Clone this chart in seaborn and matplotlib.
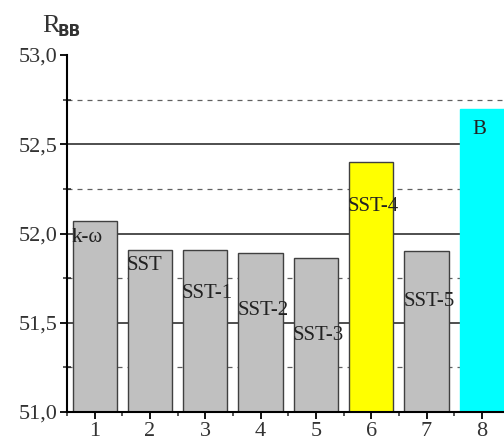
import numpy as np
import pandas as pd
import matplotlib
matplotlib.use("Agg")
import matplotlib.pyplot as plt
from matplotlib.ticker import MultipleLocator, FuncFormatter
import seaborn as sns

# data
positions = [1, 2, 3, 4, 5, 6, 7, 8]
models = ["k-ω", "SST", "SST-1", "SST-2", "SST-3", "SST-4", "SST-5", "B"]
r_bb = [52.07, 51.91, 51.91, 51.89, 51.865, 52.40, 51.90, 52.70]
bar_colors = ["#c0c0c0"] * 5 + ["#ffff00", "#c0c0c0", "#00ffff"]

# where each bar's label sits (value units below bar top)
label_drop = [0.09, 0.09, 0.245, 0.32, 0.435, 0.25, 0.28, 0.12]

sns.set_style("white")
plt.rcParams['font.family'] = ['Liberation Serif', 'DejaVu Serif']

df = pd.DataFrame({"pos": positions, "model": models, "R": r_bb})
palette = dict(zip(models, bar_colors))

fig = plt.figure(figsize=(5.04, 4.46), dpi=100)
ax = fig.add_axes([67 / 504, 34 / 446, 1 - 67 / 504, (412 - 55) / 446])

sns.barplot(data=df, x="pos", y="R", hue="model", palette=palette,
            native_scale=True, dodge=False, width=0.8, legend=False,
            edgecolor="#404040", linewidth=1.0, saturation=1, ax=ax)

for p in ax.patches:
    fc = p.get_facecolor()
    if fc[0] < 0.1 and fc[1] > 0.9:
        p.set_edgecolor(fc)

ax.set_xlim(0.5, 8.4)
ax.set_ylim(51.0, 53.0)
ax.set_xlabel("")
ax.set_ylabel("")

ax.yaxis.set_major_locator(MultipleLocator(0.5))
ax.yaxis.set_minor_locator(MultipleLocator(0.25))
ax.xaxis.set_major_locator(MultipleLocator(1))
ax.xaxis.set_minor_locator(MultipleLocator(0.5))
ax.yaxis.set_major_formatter(FuncFormatter(lambda v, _: f"{v:.1f}".replace(".", ",")))
ax.xaxis.set_major_formatter(FuncFormatter(lambda v, _: f"{int(v)}"))

ax.set_axisbelow(True)
ax.yaxis.grid(True, which="major", color="#404040", linestyle="-", linewidth=1.3)
ax.yaxis.grid(True, which="minor", color="#606060", linestyle=(0, (4, 4)), linewidth=0.9)

for side in ["top", "right"]:
    ax.spines[side].set_visible(False)
for side in ["left", "bottom"]:
    ax.spines[side].set_color("black")
    ax.spines[side].set_linewidth(1.5)

ax.tick_params(axis="both", which="major", direction="out", length=5, width=1.3,
               colors="black", labelsize=16, left=True, bottom=True, pad=2)
ax.tick_params(axis="y", which="minor", direction="inout", length=6, width=1.1, left=True)
ax.tick_params(axis="x", which="minor", direction="out", length=3, width=1.1, bottom=True)
for lbl in ax.get_yticklabels() + ax.get_xticklabels():
    lbl.set_color("#333333")

# no grid line on the top and bottom limits
for t in ax.yaxis.get_major_ticks():
    if t.get_loc() >= 52.99 or t.get_loc() <= 51.01:
        t.gridline.set_visible(False)

for i, (x, name, v) in enumerate(zip(positions, models, r_bb)):
    if name == "B":
        ax.text(x - 0.05, v - label_drop[i], name, ha="center", va="center",
                fontsize=15, color="#222222")
    else:
        ax.text(x - 0.42, v - label_drop[i], name, ha="left", va="center",
                fontsize=15, color="#222222")

fig.text(42 / 504, 1 - 26 / 446, "R", fontsize=19, ha="left", va="center", color="#333333")
fig.text(58 / 504, 1 - 32 / 446, "BB", fontsize=11, ha="left", va="center",
         family="DejaVu Sans", weight="bold", color="#333333")

fig.savefig("out.png", dpi=100)
